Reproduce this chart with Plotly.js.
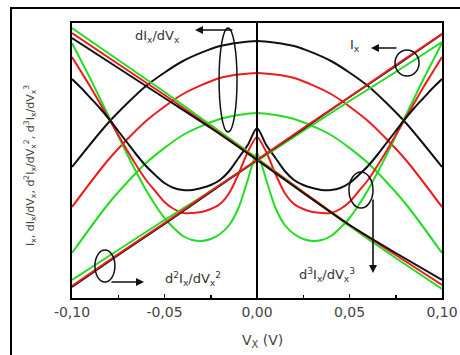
<!DOCTYPE html>
<html>
<head>
<meta charset="utf-8">
<script src="https://cdn.plot.ly/plotly-3.0.1.min.js"></script>
<style>
  html, body { margin: 0; padding: 0; background: #fff; }
  #wrap { position: relative; width: 460px; height: 355px; overflow: hidden; }
  #chart { width: 460px; height: 355px; }
  #frame { position: absolute; left: 10px; top: 7px; width: 480px; height: 380px;
           border-top: 2px solid #000; border-left: 2px solid #000; pointer-events: none; }
</style>
</head>
<body>
<div id="wrap">
  <div id="chart"></div>
  <div id="frame"></div>
</div>
<script>
// ---- data (arbitrary y units) ----
const xArc = [-0.1, -0.08, -0.06, -0.04, -0.02, 0, 0.02, 0.04, 0.06, 0.08, 0.1];
const dIdV_black = [131, 176, 212, 237, 252, 257, 252, 237, 212, 176, 131];
const dIdV_red   = [91, 139, 177, 204, 220, 225, 220, 204, 177, 139, 91];
const dIdV_green = [45, 95, 135, 163, 179, 185, 179, 163, 135, 95, 45];

const xLin = [-0.1, -0.075, -0.05, -0.025, 0, 0.025, 0.05, 0.075, 0.1];
const Ix_black = [11, 43, 74, 106, 138, 169, 201, 232, 264];
const Ix_red   = [12, 44, 75, 107, 138, 170, 201, 233, 264];
const Ix_green = [18, 48, 78, 107, 137, 167, 197, 226, 256];
const d2_black = [260, 230, 200, 170, 138, 105, 73, 45, 18];
const d2_red   = [265, 234, 203, 171, 139, 106, 73, 43, 13];
const d2_green = [270, 238, 206, 173, 140, 106, 72, 40, 9];

const xD3 = [-0.1, -0.095, -0.09, -0.085, -0.08, -0.075, -0.07, -0.065, -0.06, -0.055, -0.05,
             -0.045, -0.04, -0.035, -0.03, -0.025, -0.02, -0.015, -0.01, -0.005, 0,
             0.005, 0.01, 0.015, 0.02, 0.025, 0.03, 0.035, 0.04, 0.045, 0.05,
             0.055, 0.06, 0.065, 0.07, 0.075, 0.08, 0.085, 0.09, 0.095, 0.1];
const d3_black = [219, 210, 200, 190, 179, 167, 155, 143, 132, 123, 115,
                  110, 108, 108, 110, 113, 118, 127, 140, 153, 170,
                  153, 140, 127, 118, 113, 110, 108, 108, 110, 115,
                  123, 132, 143, 155, 167, 179, 190, 200, 210, 219];
const d3_red   = [241, 226, 211, 195, 179, 163, 147, 132, 118, 107, 96,
                  89, 85, 85, 86, 89, 94, 105, 124, 146, 161,
                  146, 124, 105, 94, 89, 86, 85, 85, 89, 96,
                  107, 118, 132, 147, 163, 179, 195, 211, 226, 241];
const d3_green = [255, 237, 219, 200, 181, 162, 143, 125, 108, 93, 80,
                  70, 62, 58, 57, 59, 64, 73, 90, 118, 145,
                  118, 90, 73, 64, 59, 57, 58, 62, 70, 80,
                  93, 108, 125, 143, 162, 181, 200, 219, 237, 255];

const tickVals = [-0.1, -0.05, 0, 0.05, 0.1];
const tickText = ["-0,10", "-0,05", "0,00", "0,05", "0,10"];

const BLACK = '#111111', RED = '#ee1c1c', GREEN = '#22dd22';

function tr(x, y, color) {
  return { x: x, y: y, mode: 'lines', type: 'scatter', hoverinfo: 'skip', showlegend: false,
           line: { color: color, width: 2, shape: 'spline', smoothing: 0.7 } };
}

const data = [
  tr(xArc, dIdV_green, GREEN), tr(xArc, dIdV_red, RED), tr(xArc, dIdV_black, BLACK),
  tr(xD3, d3_green, GREEN), tr(xD3, d3_red, RED), tr(xD3, d3_black, BLACK),
  tr(xLin, d2_green, GREEN), tr(xLin, d2_red, RED), tr(xLin, d2_black, BLACK),
  tr(xLin, Ix_green, GREEN), tr(xLin, Ix_black, BLACK), tr(xLin, Ix_red, RED)
];

const txtFont = { family: 'DejaVu Sans, sans-serif', size: 13, color: '#333' };
function arrow(x, y, ax, ay) {
  return { x: x, y: y, ax: ax, ay: ay, xref: 'x', yref: 'y', axref: 'x', ayref: 'y',
           text: '', showarrow: true, arrowhead: 2, arrowsize: 1, arrowwidth: 1.6, arrowcolor: '#111' };
}
function label(x, y, text, anchor) {
  return { x: x, y: y, xref: 'x', yref: 'y', text: text, showarrow: false,
           xanchor: anchor || 'center', yanchor: 'middle', font: txtFont };
}

const layout = {
  width: 460, height: 355,
  margin: { l: 72, r: 18, t: 23, b: 57 },
  paper_bgcolor: '#fff', plot_bgcolor: '#fff',
  xaxis: {
    range: [-0.1, 0.1], showgrid: false, zeroline: false,
    showline: true, linecolor: '#000', linewidth: 2, mirror: true,
    ticks: 'inside', ticklen: 4, tickwidth: 1.5, tickcolor: '#000',
    tickvals: tickVals, ticktext: tickText,
    minor: { tickvals: [-0.075, -0.025, 0.025, 0.075], ticks: 'inside', ticklen: 3, tickwidth: 1.5, tickcolor: '#000' },
    tickfont: { family: 'DejaVu Sans, sans-serif', size: 14, color: '#444' },
    title: { text: '' }
  },
  yaxis: {
    range: [0, 275], showgrid: false, zeroline: false,
    showline: true, linecolor: '#000', linewidth: 2, mirror: true,
    ticks: '', showticklabels: false, title: { text: '' }
  },
  shapes: [
    { type: 'line', xref: 'x', yref: 'paper', x0: 0, x1: 0, y0: 0, y1: 1, line: { color: '#000', width: 2 } },
    { type: 'circle', xref: 'x', yref: 'y', x0: -0.0205, x1: -0.0108, y0: 166, y1: 270, line: { color: '#111', width: 1.5 } },
    { type: 'circle', xref: 'x', yref: 'y', x0: 0.0746, x1: 0.0876, y0: 222, y1: 248, line: { color: '#111', width: 1.5 } },
    { type: 'circle', xref: 'x', yref: 'y', x0: -0.0876, x1: -0.0768, y0: 16, y1: 48, line: { color: '#111', width: 1.5 } },
    { type: 'circle', xref: 'x', yref: 'y', x0: 0.0497, x1: 0.0627, y0: 90, y1: 126, line: { color: '#111', width: 1.5 } }
  ],
  annotations: [
    arrow(-0.0335, 268, -0.0125, 268),
    label(-0.054, 262, 'dI<sub>x</sub>/dV<sub>x</sub>'),
    arrow(0.0616, 250, 0.0762, 250),
    label(0.053, 253, 'I<sub>x</sub>'),
    arrow(-0.0611, 16, -0.0795, 16),
    label(-0.0508, 19, 'd<sup>2</sup>I<sub>x</sub>/dV<sub>x</sub><sup>2</sup>', 'left'),
    arrow(0.0627, 25, 0.0627, 100),
    label(0.0378, 23, 'd<sup>3</sup>I<sub>x</sub>/dV<sub>x</sub><sup>3</sup>'),
    { xref: 'paper', yref: 'paper', x: -0.1135, y: 0.48, xanchor: 'center', yanchor: 'middle',
      textangle: -90, showarrow: false,
      text: 'I<sub>x</sub>, dI<sub>x</sub>/dV<sub>x</sub>, d<sup>2</sup>I<sub>x</sub>/dV<sub>x</sub><sup>2</sup>, d<sup>3</sup>I<sub>x</sub>/dV<sub>x</sub><sup>3</sup>',
      font: { family: 'DejaVu Sans, sans-serif', size: 11, color: '#444' } },
    { xref: 'paper', yref: 'paper', x: 0.514, y: -0.155, xanchor: 'center', yanchor: 'middle', showarrow: false,
      text: 'V<sub>X</sub> (V)', font: { family: 'DejaVu Sans, sans-serif', size: 14, color: '#444' } }
  ]
};

Plotly.newPlot('chart', data, layout, { staticPlot: true, displayModeBar: false });
</script>
</body>
</html>
